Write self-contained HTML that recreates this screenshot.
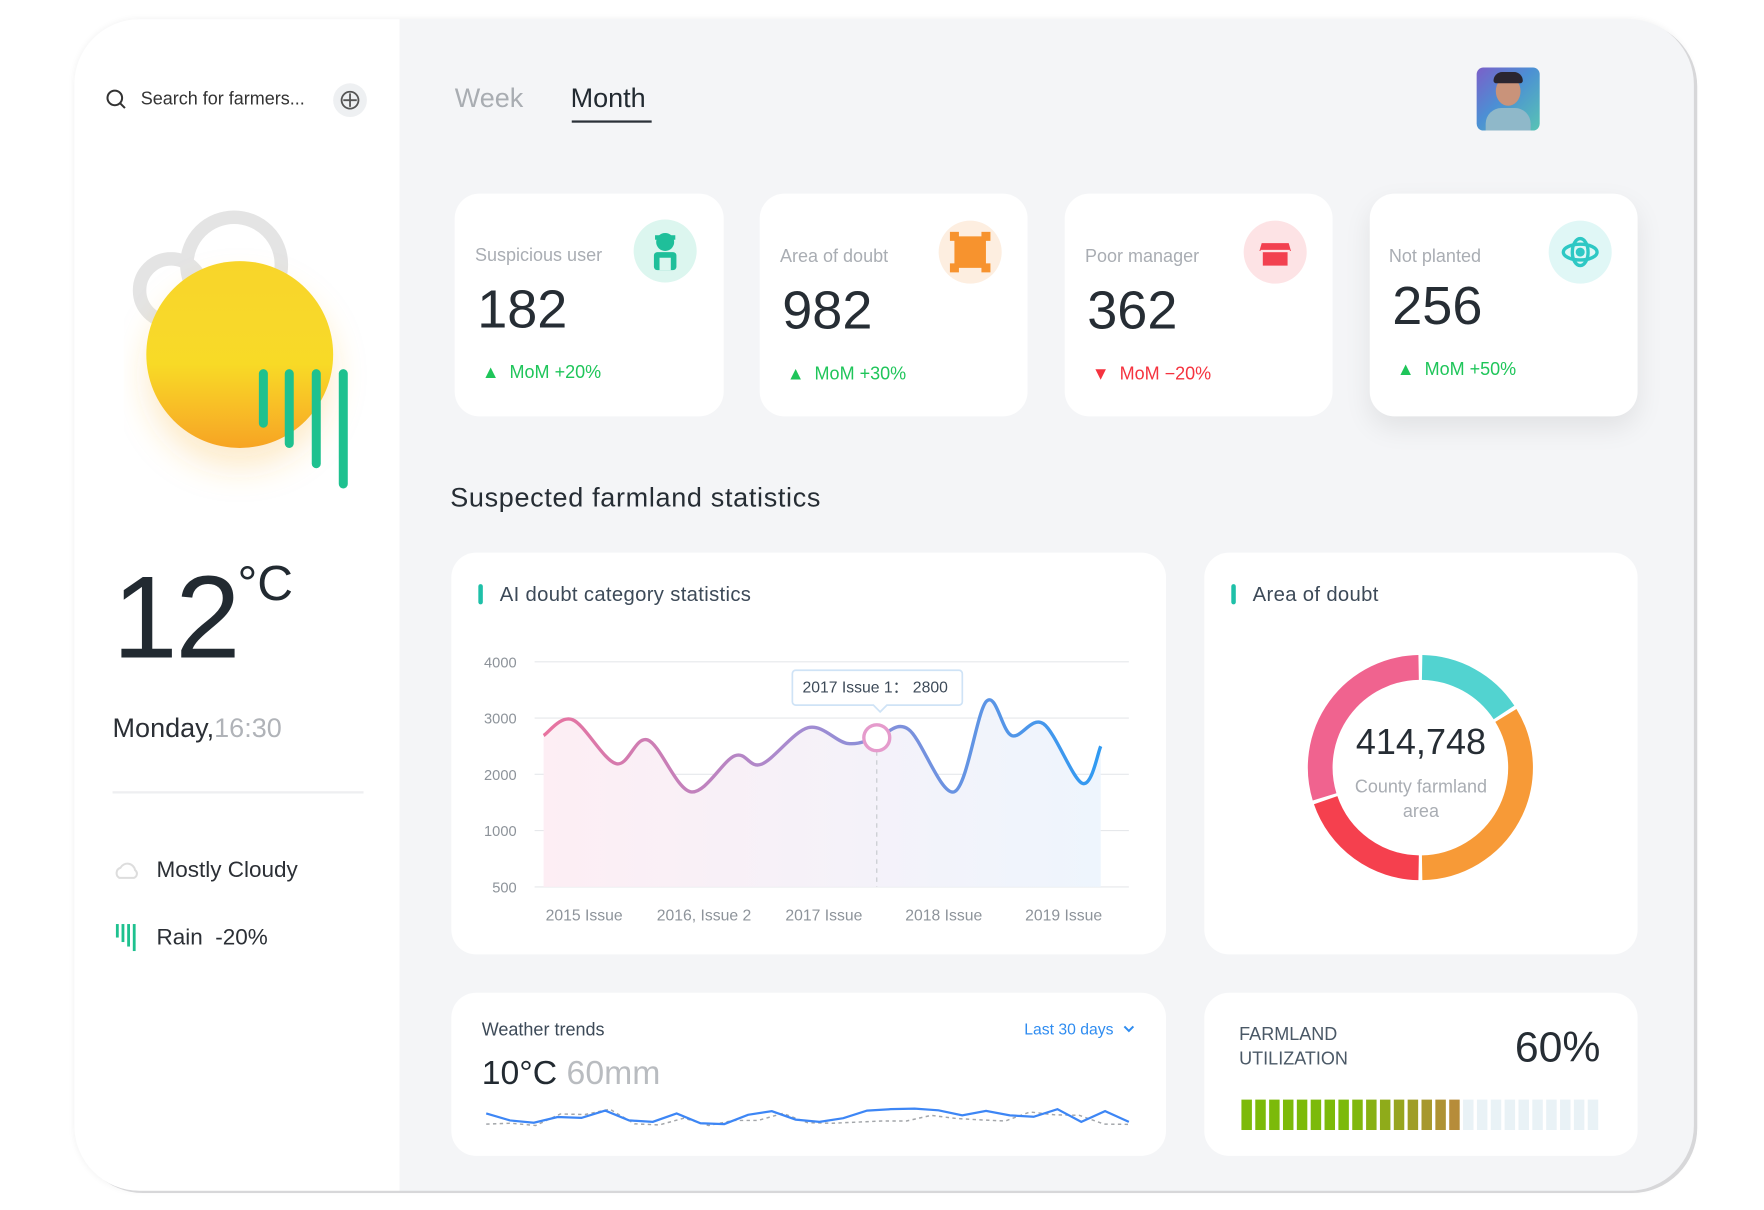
<!DOCTYPE html>
<html><head><meta charset="utf-8">
<style>
html,body{margin:0;padding:0;background:#fff;width:1764px;height:1210px;overflow:hidden;font-family:"Liberation Sans",sans-serif;}
#wrap{position:absolute;left:0;top:0;width:1560px;height:1070px;transform:scale(1.1255);transform-origin:0 0;}
.abs{position:absolute;}
.frame{left:66px;top:17px;width:1439px;height:1041px;border-radius:58px;background:#f4f5f7;overflow:hidden;box-shadow:3px 2px 0 #d7d7d9, 0 0 6px rgba(0,0,0,0.06);}
.side{left:0;top:0;width:289px;height:1041px;background:#fff;}
.card{background:#fff;border-radius:22px;position:absolute;}
.lbl{font-size:16px;color:#a9adb3;}
.num{font-size:48px;color:#262d34;}
.mom{font-size:16px;}
.ic{position:absolute;width:56px;height:56px;border-radius:50%;}
.ttl{font-size:18px;color:#3d4a58;letter-spacing:0.3px;}
.bar{position:absolute;width:4px;height:18px;background:#1ec0a8;border-radius:2px;}
</style></head>
<body>
<div id="wrap">
<div class="abs frame">
  <div class="abs side"></div>
</div>

<svg class="abs" style="left:93px;top:78px" width="22" height="22"><circle cx="9" cy="9" r="6.5" fill="none" stroke="#333" stroke-width="1.8"/><line x1="14" y1="14" x2="18" y2="18" stroke="#333" stroke-width="1.8"/></svg>
<div class="abs" style="left:125px;top:80px;font-size:16px;color:#333">Search for farmers...</div>
<div class="abs" style="left:296px;top:74px;width:30px;height:30px;border-radius:50%;background:#eef0f2">
<svg width="30" height="30"><circle cx="15" cy="15" r="7.5" fill="none" stroke="#555" stroke-width="1.6"/><line x1="15" y1="9" x2="15" y2="21" stroke="#555" stroke-width="1.6"/><line x1="9" y1="15" x2="21" y2="15" stroke="#555" stroke-width="1.6"/></svg></div>

<svg class="abs" style="left:110px;top:180px" width="220" height="270">
<defs><linearGradient id="sun" x1="0" y1="0" x2="0" y2="1"><stop offset="0" stop-color="#f8d52b"/><stop offset="0.55" stop-color="#f8da28"/><stop offset="1" stop-color="#f7a424"/></linearGradient>
<filter id="sh" x="-30%" y="-30%" width="160%" height="170%"><feDropShadow dx="0" dy="18" stdDeviation="14" flood-color="#f6b030" flood-opacity="0.25"/></filter></defs>
<circle cx="98" cy="55" r="42" fill="none" stroke="#e4e4e4" stroke-width="12"/>
<circle cx="42" cy="78" r="28" fill="none" stroke="#e4e4e4" stroke-width="12"/>
<circle cx="103" cy="135" r="83" fill="url(#sun)" filter="url(#sh)"/>
<rect x="120" y="148" width="8" height="52" rx="4" fill="#1ec18f"/>
<rect x="143" y="148" width="8" height="70" rx="4" fill="#1ec18f"/>
<rect x="167" y="148" width="8" height="88" rx="4" fill="#1ec18f"/>
<rect x="191" y="148" width="8" height="106" rx="4" fill="#1ec18f"/>
</svg>
<div class="abs" style="left:100px;top:490px;font-size:104px;color:#222a31;letter-spacing:-2px">12</div>
<div class="abs" style="left:211px;top:494px;font-size:44px;color:#222a31">°C</div>
<div class="abs" style="left:100px;top:634px;font-size:24px;color:#2b2f35">Monday,<span style="color:#b0b3b8">16:30</span></div>
<div class="abs" style="left:100px;top:703px;width:223px;height:2px;background:#eeeff1"></div>
<svg class="abs" style="left:100px;top:764px" width="26" height="20"><path d="M6 16 a5 5 0 0 1 1-9 a7 7 0 0 1 13 2 a4 4 0 0 1 -1 7z" fill="none" stroke="#ddd" stroke-width="1.8"/></svg>
<div class="abs" style="left:139px;top:762px;font-size:20px;color:#2b2f35">Mostly Cloudy</div>
<svg class="abs" style="left:101px;top:821px" width="22" height="26"><rect x="2" y="0" width="2.5" height="12" fill="#1ec18f"/><rect x="7" y="0" width="2.5" height="16" fill="#1ec18f"/><rect x="12" y="0" width="2.5" height="20" fill="#1ec18f"/><rect x="17" y="0" width="2.5" height="24" fill="#1ec18f"/></svg>
<div class="abs" style="left:139px;top:822px;font-size:20px;color:#2b2f35">Rain&nbsp; -20%</div>

<div class="abs" style="left:404px;top:74px;font-size:24px;color:#a9adb2">Week</div>
<div class="abs" style="left:507px;top:74px;font-size:24px;color:#222a31">Month</div>
<div class="abs" style="left:508px;top:107px;width:71px;height:2px;background:#2b3138"></div>
<div class="abs" style="left:1312px;top:60px;width:56px;height:56px;border-radius:6px;background:linear-gradient(135deg,#7b5fc9 0%,#4c8fd4 45%,#58c4b4 100%);overflow:hidden">
<div class="abs" style="left:17px;top:8px;width:22px;height:26px;border-radius:50%;background:#c9937a"></div>
<div class="abs" style="left:15px;top:4px;width:26px;height:10px;border-radius:10px 10px 3px 3px;background:#2a2530"></div>
<div class="abs" style="left:8px;top:36px;width:40px;height:24px;border-radius:14px 14px 0 0;background:#8fb8c9"></div>
</div>

<div class="card" style="left:404px;top:172px;width:239px;height:198px">
 <div class="abs lbl" style="left:18px;top:47px">Suspicious user</div>
 <div class="ic" style="left:159px;top:23px;background:#dcf6ef"><svg width="56" height="56"><circle cx="28" cy="20" r="8" fill="#1fbf9a"/><rect x="18" y="29" width="20" height="16" rx="3" fill="#1fbf9a"/><rect x="23" y="34" width="10" height="11" fill="#dcf6ef"/><rect x="19" y="14" width="18" height="4" fill="#1fbf9a"/></svg></div>
 <div class="abs num" style="left:20px;top:76px">182</div>
 <div class="abs mom" style="left:24px;top:151px;color:#1fc55a">▲&nbsp; MoM +20%</div>
</div>
<div class="card" style="left:675px;top:172px;width:238px;height:198px">
 <div class="abs lbl" style="left:18px;top:48px">Area of doubt</div>
 <div class="ic" style="left:159px;top:24px;background:#fdeee0"><svg width="56" height="56"><rect x="14" y="14" width="28" height="28" fill="#f7932e"/><rect x="10" y="10" width="8" height="8" fill="#f7932e"/><rect x="38" y="10" width="8" height="8" fill="#f7932e"/><rect x="10" y="38" width="8" height="8" fill="#f7932e"/><rect x="38" y="38" width="8" height="8" fill="#f7932e"/></svg></div>
 <div class="abs num" style="left:20px;top:77px">982</div>
 <div class="abs mom" style="left:24px;top:152px;color:#1fc55a">▲&nbsp; MoM +30%</div>
</div>
<div class="card" style="left:946px;top:172px;width:238px;height:198px">
 <div class="abs lbl" style="left:18px;top:48px">Poor manager</div>
 <div class="ic" style="left:159px;top:24px;background:#fde3e5"><svg width="56" height="56"><path d="M16 20 h24 l2 7 h-28z" fill="#f24150"/><rect x="17" y="28" width="22" height="12" fill="#f24150"/><rect x="15" y="26" width="26" height="2" fill="#fde3e5"/></svg></div>
 <div class="abs num" style="left:20px;top:77px">362</div>
 <div class="abs mom" style="left:24px;top:152px;color:#f5333f">▼&nbsp; MoM −20%</div>
</div>
<div class="card" style="left:1217px;top:172px;width:238px;height:198px;box-shadow:0 10px 24px rgba(0,0,0,0.08)">
 <div class="abs lbl" style="left:17px;top:48px">Not planted</div>
 <div class="ic" style="left:159px;top:24px;background:#e0f7f6"><svg width="56" height="56"><ellipse cx="28" cy="28" rx="15" ry="7" fill="none" stroke="#2ec8c4" stroke-width="3"/><ellipse cx="28" cy="28" rx="7" ry="12" fill="none" stroke="#2ec8c4" stroke-width="3"/><circle cx="28" cy="28" r="4" fill="#2ec8c4"/></svg></div>
 <div class="abs num" style="left:20px;top:73px">256</div>
 <div class="abs mom" style="left:24px;top:148px;color:#1fc55a">▲&nbsp; MoM +50%</div>
</div>

<div class="abs" style="left:400px;top:429px;font-size:24px;color:#262d34;letter-spacing:0.6px">Suspected farmland statistics</div>

<div class="card" style="left:401px;top:491px;width:635px;height:357px">
 <div class="bar" style="left:24px;top:28px"></div>
 <div class="abs ttl" style="left:43px;top:27px">AI doubt category statistics</div>
</div>
<svg id="lc" class="abs" style="left:0;top:0" width="1100" height="860"></svg>

<div class="card" style="left:1070px;top:491px;width:385px;height:357px">
 <div class="bar" style="left:24px;top:28px"></div>
 <div class="abs ttl" style="left:43px;top:27px">Area of doubt</div>
 <div class="abs" style="left:0;top:150px;width:385px;text-align:center;font-size:32px;color:#262d34">414,748</div>
 <div class="abs" style="left:0;top:198px;width:385px;text-align:center;font-size:16px;color:#a9adb3;line-height:22px">County farmland<br>area</div>
</div>
<svg id="dc" class="abs" style="left:1150px;top:570px" width="224" height="224"></svg>

<div class="card" style="left:401px;top:882px;width:635px;height:145px">
 <div class="abs" style="left:27px;top:25px;font-size:16px;color:#3d4a58">Weather trends</div>
 <div class="abs" style="left:509px;top:24px;font-size:14px;color:#2f8cf0">Last 30 days&nbsp; <svg width="12" height="8"><path d="M2 1 L6 5 L10 1" fill="none" stroke="#2f8cf0" stroke-width="1.8"/></svg></div>
 <div class="abs" style="left:27px;top:55px;font-size:30px;color:#222a31">10°C <span style="color:#b9bcc0">60mm</span></div>
</div>
<svg id="sp" class="abs" style="left:0;top:0" width="1100" height="1060"></svg>

<div class="card" style="left:1070px;top:882px;width:385px;height:145px">
 <div class="abs" style="left:31px;top:27px;font-size:16px;color:#4a5866;line-height:22px">FARMLAND<br>UTILIZATION</div>
 <div class="abs" style="right:33px;top:28px;font-size:38px;color:#262d34">60%</div>
</div>
<svg id="ub" class="abs" style="left:1100px;top:975px" width="330" height="32"></svg>
</div>

<script>
const NS='http://www.w3.org/2000/svg';
function mk(p,t,a){const e=document.createElementNS(NS,t);for(const k in a)e.setAttribute(k,a[k]);p.appendChild(e);return e;}

const categories=['2015 Issue','2016, Issue 2','2017 Issue','2018 Issue','2019 Issue'];
const yTicks=[500,1000,2000,3000,4000];
const seriesT=[0,5.2,13,18.7,26.4,34.3,39.1,47.5,54.5,59.8,65.5,73.7,79.5,84,89.7,96.7,100];
const seriesV=[2690,2970,2190,2610,1690,2330,2180,2830,2550,2650,2800,1690,3300,2690,2900,1840,2500];
const highlightIndex=9;
const tooltipText='2017 Issue 1： 2800';

const tempSeries=[55,30,22,42,39,65,30,25,55,20,17,50,63,33,25,38,65,70,72,66,48,64,48,43,70,25,63,25];
const rainSeries=[17,20,12,53,51,70,18,14,38,12,30,30,55,22,20,24,28,28,48,37,32,28,60,50,48,17,16];

const donutValues=[16,34,20,30];
const donutColors=['#52d3d0','#f79a37','#f5404e','#f0638f'];

const utilization=60;
const barCount=26;

(function(){
 const svg=document.getElementById('lc');
 const x0=483,x1=978;
 const tickY=[788,738,688,638,588];
 const xs=t=>x0+(x1-x0)*t/100;
 const ys=v=>{for(let i=0;i<yTicks.length-1;i++){if(v<=yTicks[i+1]){return tickY[i]+(tickY[i+1]-tickY[i])*(v-yTicks[i])/(yTicks[i+1]-yTicks[i]);}}return tickY[4];};
 const defs=mk(svg,'defs',{});
 const lg=mk(defs,'linearGradient',{id:'lg',x1:'0',y1:'0',x2:'1',y2:'0'});
 mk(lg,'stop',{offset:'0','stop-color':'#e9739f'});mk(lg,'stop',{offset:'0.45','stop-color':'#a78bd0'});mk(lg,'stop',{offset:'1','stop-color':'#2f9af2'});
 const ag=mk(defs,'linearGradient',{id:'ag',x1:'0',y1:'0',x2:'1',y2:'0'});
 mk(ag,'stop',{offset:'0','stop-color':'#fdeef4'});mk(ag,'stop',{offset:'1','stop-color':'#eef5fd'});
 yTicks.forEach((t,i)=>{
  const l=mk(svg,'line',{x1:475,x2:1003,y1:ys(t),y2:ys(t),stroke:'#e6e8eb','stroke-width':1});
  
  
  const tx=mk(svg,'text',{x:459,y:ys(t)+5,'text-anchor':'end','font-size':13,fill:'#8d939a','font-family':'Liberation Sans, sans-serif'});tx.textContent=t;
  
  
 });
 categories.forEach((c,i)=>{
  const tx=mk(svg,'text',{x:519+i*106.5,y:818,'text-anchor':'middle','font-size':14,fill:'#8d939a','font-family':'Liberation Sans, sans-serif'});tx.textContent=c;
  
  
 });
 const P=seriesT.map((t,i)=>[xs(t),ys(seriesV[i])]);
 let d='M'+P[0][0]+','+P[0][1];
 for(let i=0;i<P.length-1;i++){
  const p0=P[Math.max(0,i-1)],p1=P[i],p2=P[i+1],p3=P[Math.min(P.length-1,i+2)];
  const c1=[p1[0]+(p2[0]-p0[0])/6,p1[1]+(p2[1]-p0[1])/6],c2=[p2[0]-(p3[0]-p1[0])/6,p2[1]-(p3[1]-p1[1])/6];
  d+=' C'+c1[0]+','+c1[1]+' '+c2[0]+','+c2[1]+' '+p2[0]+','+p2[1];
 }
 const area=mk(svg,'path',{d:d+' L'+P[P.length-1][0]+',788 L'+P[0][0]+',788 Z',fill:'url(#ag)'});
 
 
 const line=mk(svg,'path',{d:d,fill:'none',stroke:'url(#lg)','stroke-width':3});
 
 
 const hp=P[highlightIndex];
 const dl=mk(svg,'line',{x1:hp[0],x2:hp[0],y1:hp[1]+12,y2:788,stroke:'#c5c8cc','stroke-dasharray':'4 4'});
 
 
 const mc=mk(svg,'circle',{cx:hp[0],cy:hp[1],r:11.5,fill:'#fff',stroke:'#e59bcc','stroke-width':3});
 
 
 const tg=mk(svg,'g',{});
 
 
 const tx0=hp[0]-75,ty0=hp[1]-60;
 mk(tg,'path',{d:`M${tx0+3},${ty0} h145 a3,3 0 0 1 3,3 v25 a3,3 0 0 1 -3,3 h-64 l-6,6 l-6,-6 h-69 a3,3 0 0 1 -3,-3 v-25 a3,3 0 0 1 3,-3z`,fill:'#fff',stroke:'#cfe3f6','stroke-width':1.5});
 const tt=mk(tg,'text',{x:tx0+9,y:ty0+20,'font-size':14,fill:'#3d4a58','font-family':'Liberation Sans, sans-serif'});tt.textContent=tooltipText;
})();

(function(){
 const svg=document.getElementById('dc');
 const cx=112,cy=112,r=89,total=donutValues.reduce((a,b)=>a+b,0);
 let a0=0;
 donutValues.forEach((v,i)=>{
  const a1=a0+v/total*360;
  const s=(a0+1)*Math.PI/180,e=(a1-1)*Math.PI/180;
  const p=mk(svg,'path',{d:`M${cx+r*Math.sin(s)},${cy-r*Math.cos(s)} A${r},${r} 0 ${(a1-a0)>180?1:0} 1 ${cx+r*Math.sin(e)},${cy-r*Math.cos(e)}`,fill:'none',stroke:donutColors[i],'stroke-width':22});
  
  
  a0=a1;
 });
})();

(function(){
 const svg=document.getElementById('sp');
 const x0=432,x1=1003,yb=1003,yt=985;
 const ymap=v=>yb-(yb-yt)*v/72;
 function pts(arr){return arr.map((v,i)=>(x0+(x1-x0)*i/(arr.length-1))+','+ymap(v)).join(' ');}
 const r=mk(svg,'polyline',{points:pts(rainSeries),fill:'none',stroke:'#a3a6aa','stroke-width':1.3,'stroke-dasharray':'3 3'});
 
 
 const t=mk(svg,'polyline',{points:pts(tempSeries),fill:'none',stroke:'#3d86f5','stroke-width':2});
 
 
})();

(function(){
 const svg=document.getElementById('ub');
 const filled=Math.round(barCount*utilization/100);
 const pitch=320/barCount,w=pitch-3;
 for(let i=0;i<barCount;i++){
  let col='#e9f2f6';
  if(i<filled){const f=i/(filled-1);const t=Math.max(0,(f-0.5)/0.5);
   const R=Math.round(124+(182-124)*t),G=Math.round(186+(140-186)*t),B=Math.round(10+(58-10)*t);col=`rgb(${R},${G},${B})`;}
  const b=mk(svg,'rect',{x:3+i*pitch,y:2,width:w,height:27,fill:col});
  
  
 }
})();
</script>
</body></html>
